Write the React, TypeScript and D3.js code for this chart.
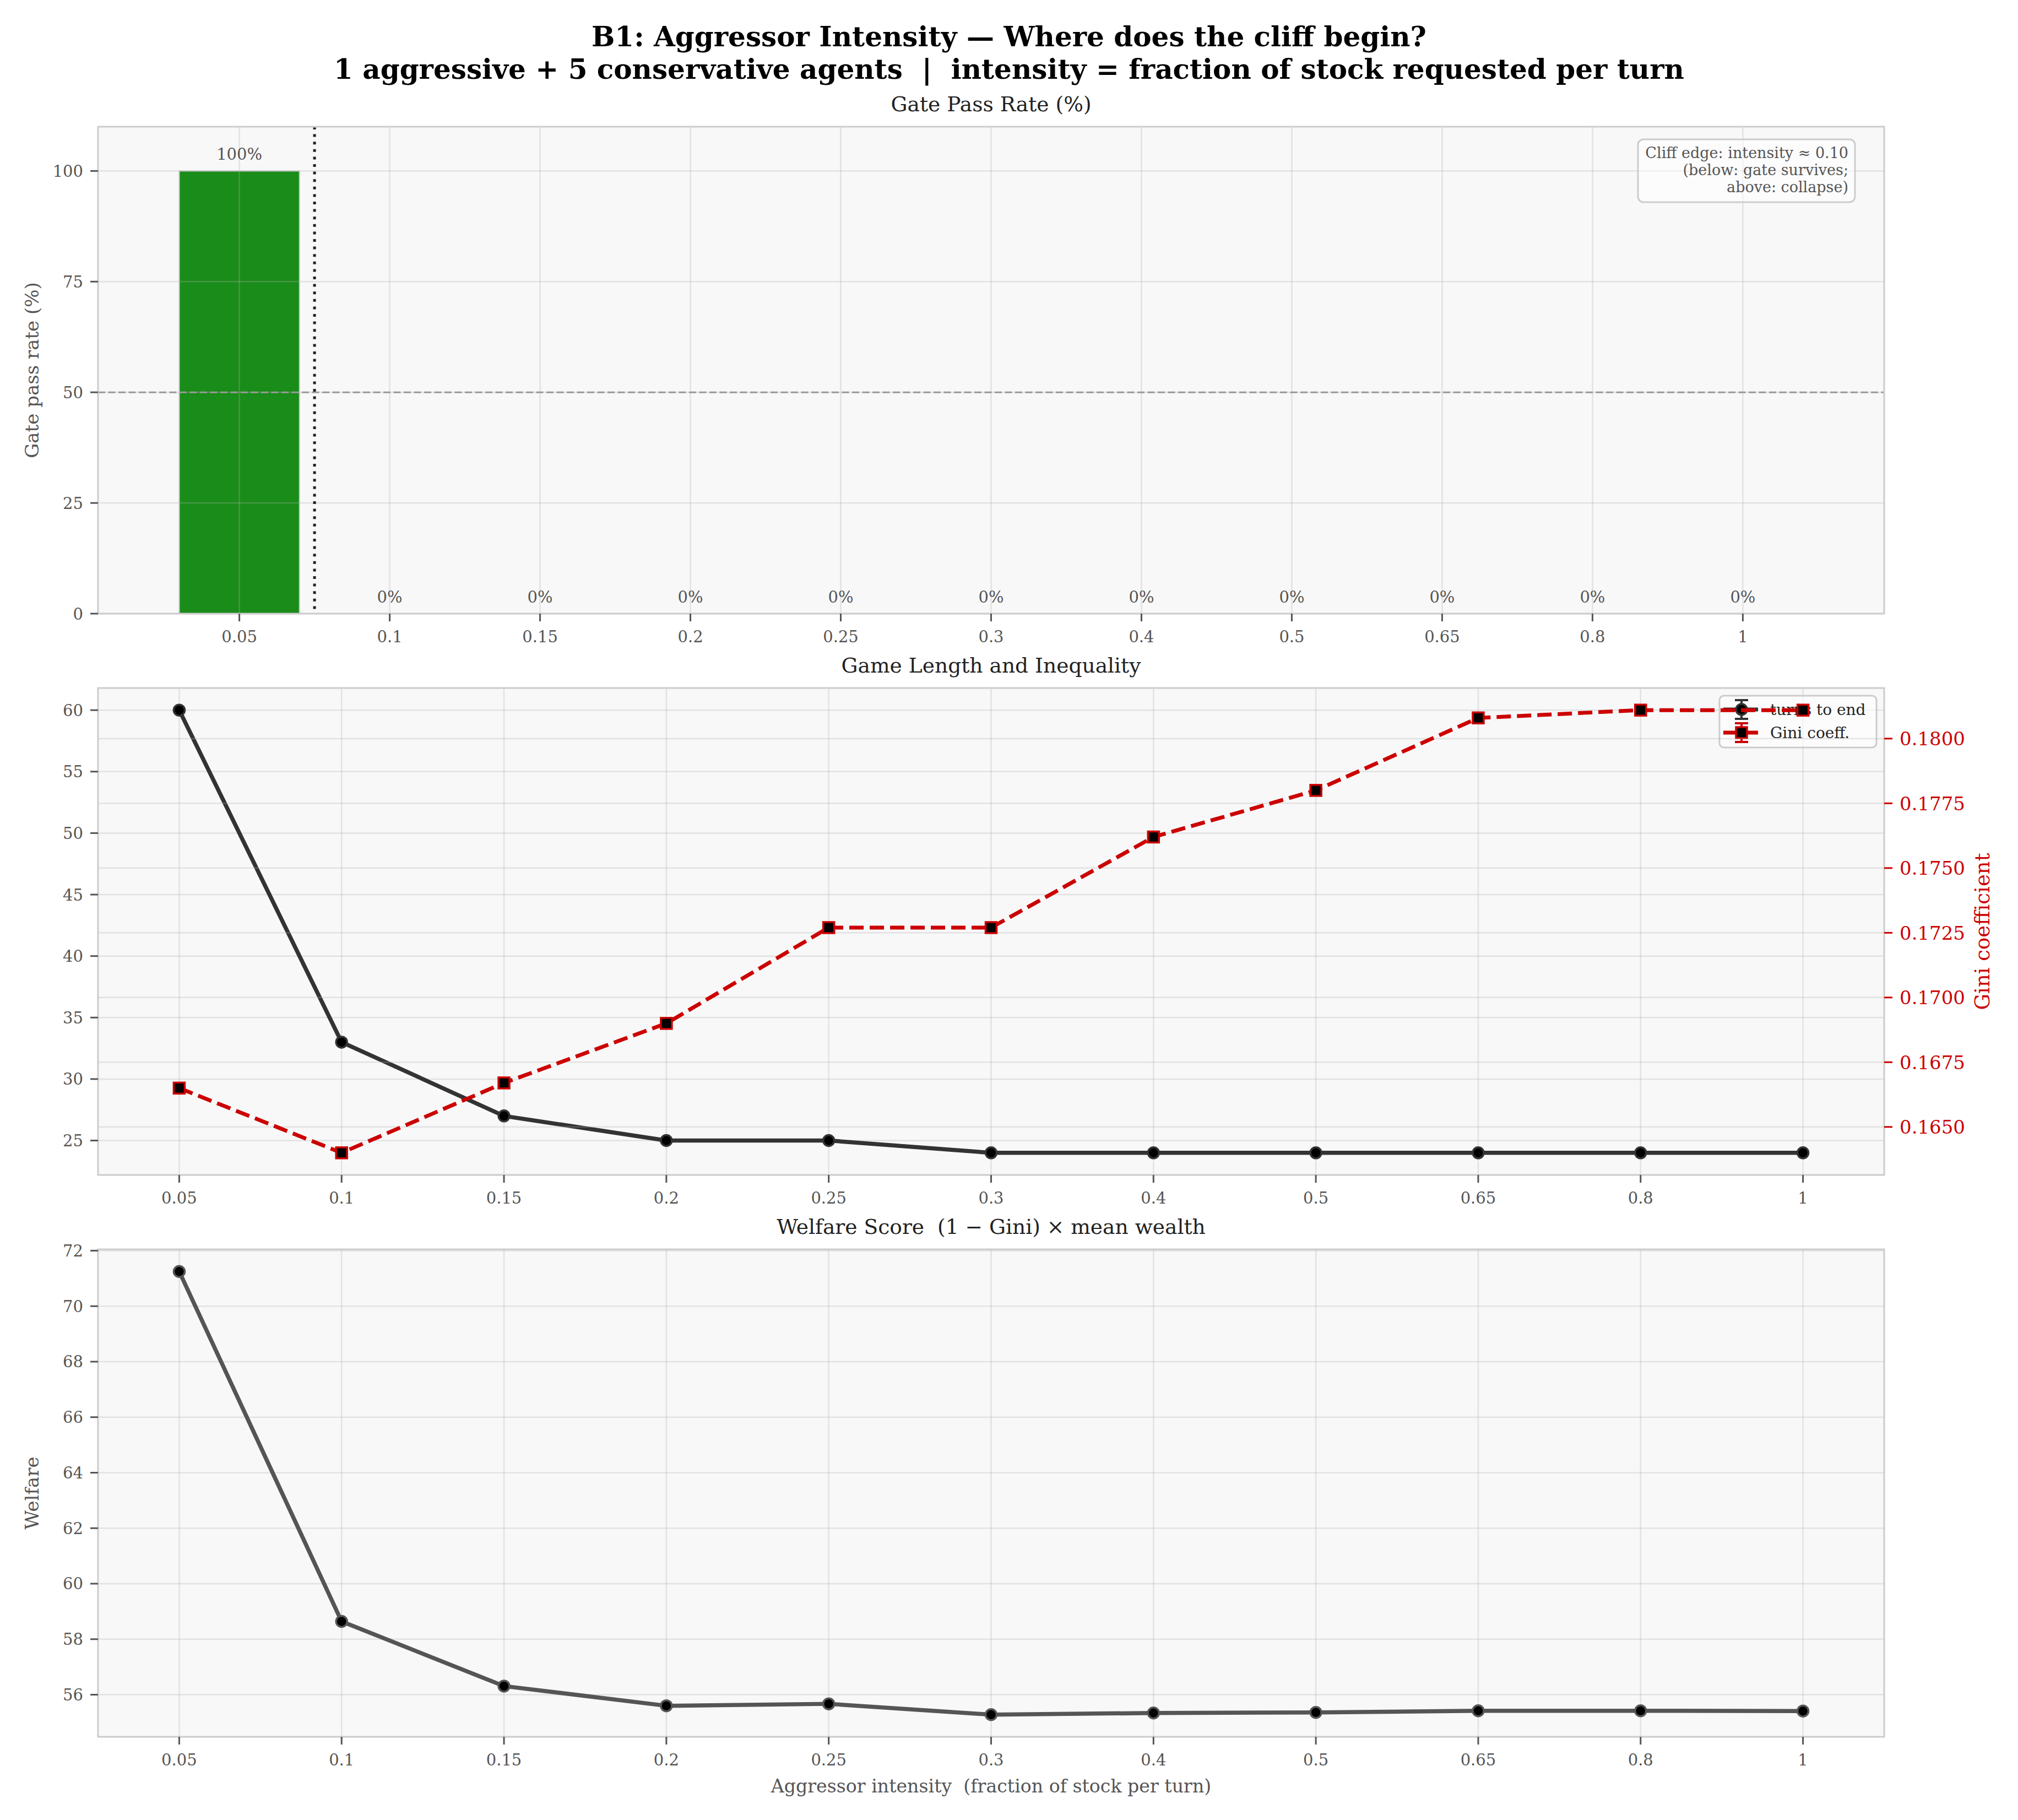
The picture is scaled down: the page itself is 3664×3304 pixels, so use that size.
import * as d3 from "d3";

// Aggressor intensity sweep (B1)
const intensityLabels = ["0.05", "0.1", "0.15", "0.2", "0.25", "0.3", "0.4", "0.5", "0.65", "0.8", "1"];
const gatePassRate = [100, 0, 0, 0, 0, 0, 0, 0, 0, 0, 0];
const turnsToEnd = [60, 33, 27, 25, 25, 24, 24, 24, 24, 24, 24];
const giniCoeff = [0.1665, 0.164, 0.1667, 0.169, 0.1727, 0.1727, 0.1762, 0.178, 0.1808, 0.1811, 0.1811];
const welfareScore = [71.25, 58.64, 56.31, 55.6, 55.67, 55.28, 55.34, 55.36, 55.42, 55.42, 55.41];

const gateTicks = [0, 25, 50, 75, 100];
const turnsTicks = [25, 30, 35, 40, 45, 50, 55, 60];
const giniTicks = [0.165, 0.1675, 0.17, 0.1725, 0.175, 0.1775, 0.18];
const welfareTicks = [56, 58, 60, 62, 64, 66, 68, 70, 72];

const cliffIndex = 0.5;
const passThreshold = 50;
const annotationLines = ["Cliff edge: intensity \u2248 0.10", "(below: gate survives;", "above: collapse)"];

const W = 3664;
const H = 3304;
const FONT = "'DejaVu Serif', serif";
const LEFT = 178;
const RIGHT = 3421;
const P1 = { top: 230, bottom: 1114 };
const P2 = { top: 1249, bottom: 2133 };
const P3 = { top: 2268, bottom: 3153 };
const TICK_C = "#555555";
const GRID = { stroke: "#b0b0b0", strokeOpacity: 0.3, strokeWidth: 2.5 };
const RED = "#cc0000";

function padded(values: number[], frac = 0.05): [number, number] {
  const [lo, hi] = d3.extent(values) as [number, number];
  const m = (hi - lo) * frac;
  return [lo - m, hi + m];
}

const idx = intensityLabels.map((_, i) => i);

const x1 = d3.scaleLinear().domain([-0.4 - 0.54, intensityLabels.length - 1 + 0.4 + 0.54]).range([LEFT, RIGHT]);
const xL = d3.scaleLinear().domain(padded(idx)).range([LEFT, RIGHT]);
const y1 = d3.scaleLinear().domain([0, 110]).range([P1.bottom, P1.top]);
const y2 = d3.scaleLinear().domain(padded(turnsToEnd)).range([P2.bottom, P2.top]);
const y2r = d3.scaleLinear().domain(padded(giniCoeff)).range([P2.bottom, P2.top]);
const y3 = d3.scaleLinear().domain(padded(welfareScore)).range([P3.bottom, P3.top]);

function Frame({ top, bottom }: { top: number; bottom: number }) {
  return <rect x={LEFT} y={top} width={RIGHT - LEFT} height={bottom - top} fill="#f8f8f8" />;
}

function Spines({ top, bottom }: { top: number; bottom: number }) {
  return (
    <rect x={LEFT} y={top} width={RIGHT - LEFT} height={bottom - top} fill="none" stroke="#cccccc" strokeWidth={3} />
  );
}

function VGrid({ x, top, bottom }: { x: d3.ScaleLinear<number, number>; top: number; bottom: number }) {
  return (
    <g>
      {idx.map((i) => (
        <line key={i} x1={x(i)} x2={x(i)} y1={top} y2={bottom} {...GRID} />
      ))}
    </g>
  );
}

function HGrid({ y, ticks }: { y: d3.ScaleLinear<number, number>; ticks: number[] }) {
  return (
    <g>
      {ticks.map((t) => (
        <line key={t} x1={LEFT} x2={RIGHT} y1={y(t)} y2={y(t)} {...GRID} />
      ))}
    </g>
  );
}

function XAxis({ x, bottom }: { x: d3.ScaleLinear<number, number>; bottom: number }) {
  return (
    <g>
      {idx.map((i) => (
        <g key={i}>
          <line x1={x(i)} x2={x(i)} y1={bottom} y2={bottom + 14} stroke={TICK_C} strokeWidth={3} />
          <text x={x(i)} y={bottom + 52} textAnchor="middle" fontSize={29} fill={TICK_C}>
            {intensityLabels[i]}
          </text>
        </g>
      ))}
    </g>
  );
}

function YAxis({ y, ticks, fmt }: { y: d3.ScaleLinear<number, number>; ticks: number[]; fmt: (v: number) => string }) {
  return (
    <g>
      {ticks.map((t) => (
        <g key={t}>
          <line x1={LEFT - 14} x2={LEFT} y1={y(t)} y2={y(t)} stroke={TICK_C} strokeWidth={3} />
          <text x={LEFT - 27} y={y(t) + 10.5} textAnchor="end" fontSize={29} fill={TICK_C}>
            {fmt(t)}
          </text>
        </g>
      ))}
    </g>
  );
}

function YLabel({ text, top, bottom }: { text: string; top: number; bottom: number }) {
  const cy = (top + bottom) / 2;
  return (
    <text transform={`translate(70,${cy}) rotate(-90)`} textAnchor="middle" fontSize={34} fill={TICK_C}>
      {text}
    </text>
  );
}

function AxTitle({ text, top }: { text: string; top: number }) {
  return (
    <text x={(LEFT + RIGHT) / 2} y={top - 28} textAnchor="middle" fontSize={37.6} fill="#222222" style={{ whiteSpace: "pre" }}>
      {text}
    </text>
  );
}

function Dot({ cx, cy, edge }: { cx: number; cy: number; edge: string }) {
  return <circle cx={cx} cy={cy} r={10} fill="#000000" stroke={edge} strokeWidth={3.5} />;
}

function Square({ cx, cy }: { cx: number; cy: number }) {
  return <rect x={cx - 10} y={cy - 10} width={20} height={20} fill="#000000" stroke={RED} strokeWidth={3.5} />;
}

function GatePanel() {
  const bw = x1(0.4) - x1(-0.4);
  return (
    <g>
      <Frame {...P1} />
      {gatePassRate.map((v, i) => (
        <rect
          key={i}
          x={x1(i) - bw / 2}
          y={y1(v)}
          width={bw}
          height={y1(0) - y1(v)}
          fill="#008000"
          fillOpacity={0.9}
          stroke="#cccccc"
          strokeWidth={2}
        />
      ))}
      <VGrid x={x1} {...P1} />
      <HGrid y={y1} ticks={gateTicks} />
      <line
        x1={LEFT}
        x2={RIGHT}
        y1={y1(passThreshold)}
        y2={y1(passThreshold)}
        stroke="#999999"
        strokeWidth={3}
        strokeDasharray="13 5.5"
      />
      <line
        x1={x1(cliffIndex)}
        x2={x1(cliffIndex)}
        y1={P1.top}
        y2={P1.bottom}
        stroke="#222222"
        strokeWidth={5}
        strokeDasharray="5 8.6"
      />
      {gatePassRate.map((v, i) => (
        <text key={i} x={x1(i)} y={y1(v) - 20} textAnchor="middle" fontSize={29} fill={TICK_C}>
          {`${v}%`}
        </text>
      ))}
      <rect x={2974} y={253} width={394} height={114} rx={10} fill="#ffffff" fillOpacity={0.5} stroke="#cccccc" strokeWidth={3} />
      {annotationLines.map((t, i) => (
        <text key={i} x={3356} y={287 + i * 31} textAnchor="end" fontSize={27} fill={TICK_C}>
          {t}
        </text>
      ))}
      <Spines {...P1} />
      <XAxis x={x1} bottom={P1.bottom} />
      <YAxis y={y1} ticks={gateTicks} fmt={(v) => `${v}`} />
      <YLabel text="Gate pass rate (%)" {...P1} />
      <AxTitle text="Gate Pass Rate (%)" top={P1.top} />
    </g>
  );
}

function LengthPanel() {
  const turnsLine = d3
    .line<number>()
    .x((_, i) => xL(i))
    .y((d) => y2(d));
  const giniLine = d3
    .line<number>()
    .x((_, i) => xL(i))
    .y((d) => y2r(d));
  const lx0 = 3129;
  const lx1 = 3192;
  const lmx = 3162;
  const ly1 = 1288;
  const ly2 = 1330;
  return (
    <g>
      <Frame {...P2} />
      <VGrid x={xL} {...P2} />
      <HGrid y={y2} ticks={turnsTicks} />
      <path d={turnsLine(turnsToEnd) ?? ""} fill="none" stroke="#333333" strokeWidth={7.5} strokeLinejoin="round" />
      {turnsToEnd.map((v, i) => (
        <Dot key={i} cx={xL(i)} cy={y2(v)} edge="#333333" />
      ))}
      {/* legend */}
      <rect x={3122} y={1263} width={285} height={94} rx={8} fill="#ffffff" fillOpacity={0.6} stroke="#cccccc" strokeWidth={3} />
      <line x1={lx0} x2={lx1} y1={ly1} y2={ly1} stroke="#333333" strokeWidth={7} />
      <line x1={lmx} x2={lmx} y1={ly1 - 17} y2={ly1 + 17} stroke="#333333" strokeWidth={4} />
      <line x1={lmx - 12} x2={lmx + 12} y1={ly1 - 17} y2={ly1 - 17} stroke="#333333" strokeWidth={4} />
      <line x1={lmx - 12} x2={lmx + 12} y1={ly1 + 17} y2={ly1 + 17} stroke="#333333" strokeWidth={4} />
      <Dot cx={lmx} cy={ly1} edge="#333333" />
      <text x={3214} y={ly1 + 10} fontSize={28} fill="#222222">turns to end</text>
      <line x1={lx0} x2={lx1} y1={ly2} y2={ly2} stroke={RED} strokeWidth={7} />
      <line x1={lmx} x2={lmx} y1={ly2 - 17} y2={ly2 + 17} stroke={RED} strokeWidth={4} />
      <line x1={lmx - 12} x2={lmx + 12} y1={ly2 - 17} y2={ly2 - 17} stroke={RED} strokeWidth={4} />
      <line x1={lmx - 12} x2={lmx + 12} y1={ly2 + 17} y2={ly2 + 17} stroke={RED} strokeWidth={4} />
      <Square cx={lmx} cy={ly2} />
      <text x={3214} y={ly2 + 10} fontSize={28} fill="#222222">Gini coeff.</text>
      {/* twin axis */}
      <HGrid y={y2r} ticks={giniTicks} />
      <path d={giniLine(giniCoeff) ?? ""} fill="none" stroke={RED} strokeWidth={7} strokeDasharray="26 11" />
      {giniCoeff.map((v, i) => (
        <Square key={i} cx={xL(i)} cy={y2r(v)} />
      ))}
      <Spines {...P2} />
      <XAxis x={xL} bottom={P2.bottom} />
      <YAxis y={y2} ticks={turnsTicks} fmt={(v) => `${v}`} />
      {giniTicks.map((t) => (
        <g key={t}>
          <line x1={RIGHT} x2={RIGHT + 15} y1={y2r(t)} y2={y2r(t)} stroke={RED} strokeWidth={3} />
          <text x={RIGHT + 28} y={y2r(t) + 12.5} fontSize={34} fill={RED}>
            {d3.format(".4f")(t)}
          </text>
        </g>
      ))}
      <text transform={`translate(3612,${(P2.top + P2.bottom) / 2}) rotate(-90)`} textAnchor="middle" fontSize={37} fill={RED}>
        Gini coefficient
      </text>
      <AxTitle text="Game Length and Inequality" top={P2.top} />
    </g>
  );
}

function WelfarePanel() {
  const line = d3
    .line<number>()
    .x((_, i) => xL(i))
    .y((d) => y3(d));
  return (
    <g>
      <Frame {...P3} />
      <VGrid x={xL} {...P3} />
      <HGrid y={y3} ticks={welfareTicks} />
      <path d={line(welfareScore) ?? ""} fill="none" stroke="#555555" strokeWidth={7.5} strokeLinejoin="round" />
      {welfareScore.map((v, i) => (
        <Dot key={i} cx={xL(i)} cy={y3(v)} edge="#555555" />
      ))}
      <Spines {...P3} />
      <XAxis x={xL} bottom={P3.bottom} />
      <YAxis y={y3} ticks={welfareTicks} fmt={(v) => `${v}`} />
      <YLabel text="Welfare" {...P3} />
      <AxTitle text={"Welfare Score  (1 \u2212 Gini) \u00d7 mean wealth"} top={P3.top} />
      <text x={(LEFT + RIGHT) / 2} y={3254} textAnchor="middle" fontSize={33.2} fill={TICK_C} style={{ whiteSpace: "pre" }}>
        {"Aggressor intensity  (fraction of stock per turn)"}
      </text>
    </g>
  );
}

export default function App() {
  return (
    <div style={{ position: "absolute", left: 0, top: 0 }}>
      <svg width={W} height={H} viewBox={`0 0 ${W} ${H}`} fontFamily={FONT} style={{ display: "block", background: "#ffffff" }}>
        <rect width={W} height={H} fill="#ffffff" />
        <text x={W / 2} y={84} textAnchor="middle" fontSize={50} fontWeight="bold" fill="#000000" style={{ whiteSpace: "pre" }}>
          {"B1: Aggressor Intensity \u2014 Where does the cliff begin?"}
        </text>
        <text x={W / 2} y={143} textAnchor="middle" fontSize={50} fontWeight="bold" fill="#000000" style={{ whiteSpace: "pre" }}>
          {"1 aggressive + 5 conservative agents  |  intensity = fraction of stock requested per turn"}
        </text>
        <GatePanel />
        <LengthPanel />
        <WelfarePanel />
      </svg>
    </div>
  );
}
